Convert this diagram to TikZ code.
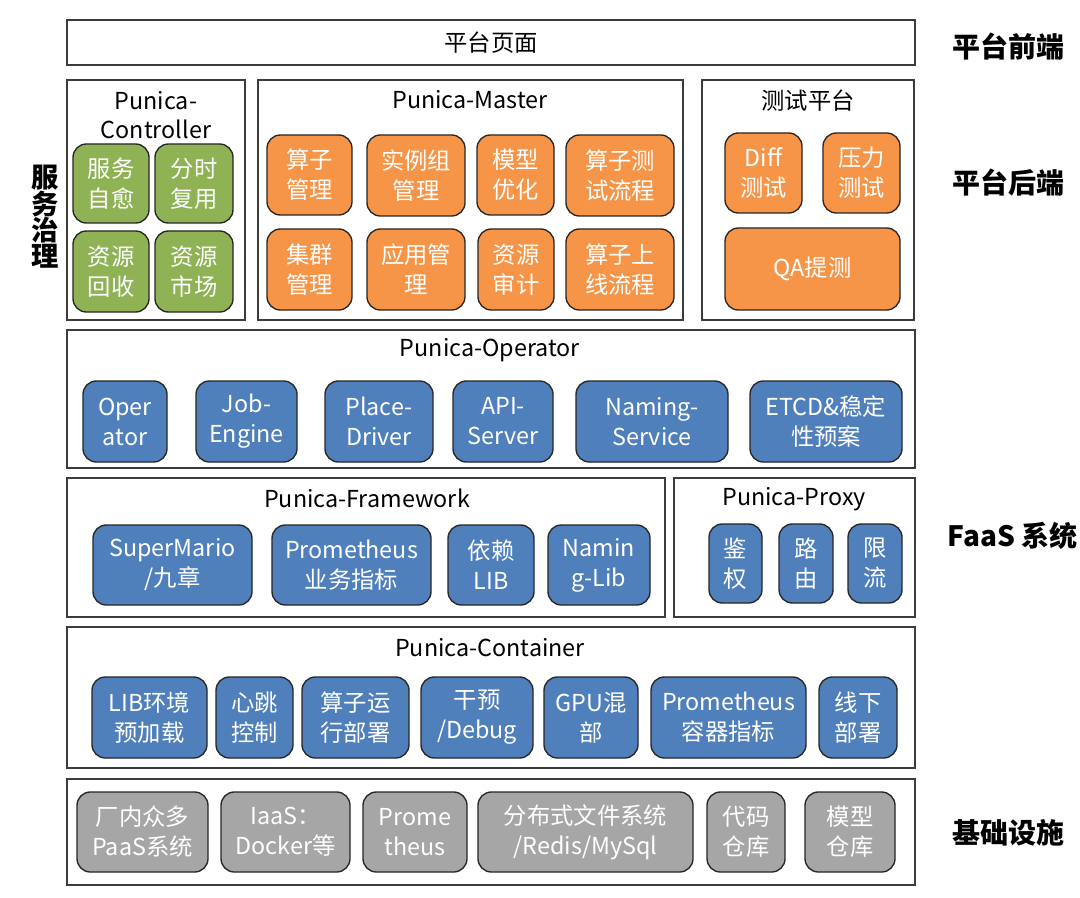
\documentclass[tikz,border=0pt]{standalone}
\usepackage{fontspec}
\setmainfont{Noto Sans CJK SC}
\usetikzlibrary{fit}
\definecolor{cgreen}{RGB}{143,179,84}
\definecolor{corange}{RGB}{246,149,72}
\definecolor{cblue}{RGB}{80,128,188}
\definecolor{cgray}{RGB}{166,166,166}
\definecolor{cborder}{RGB}{60,60,60}
\tikzset{
  panel/.style={draw=cborder, line width=0.9pt, fill=white, inner sep=0pt},
  item/.style={draw=black!85, line width=1pt, rounded corners=10pt, inner sep=0pt},
  gitem/.style={item, fill=cgreen},
  oitem/.style={item, fill=corange},
  bitem/.style={item, fill=cblue},
  yitem/.style={item, fill=cgray},
  itxt/.style={text=white, align=center, inner sep=0pt, font=\fontsize{17.5}{22.5}\selectfont},
  ttl/.style={align=center, inner sep=0pt, font=\fontsize{17.5}{22}\selectfont},
  side/.style={inner sep=0pt, font=\bfseries\fontsize{21}{21}\selectfont},
}
\begin{document}
\begin{tikzpicture}[x=0.75pt, y=-0.75pt]
\useasboundingbox (0,0) rectangle (1080,898);
% panels
\node[panel, fit={(67,20) (915,65)}] (top) {};
\node[ttl] (ttop) at (top) {平台页面};
\node[panel, fit={(67,80) (245,320)}] (ctrl) {};
\node[panel, fit={(258,80) (683,320)}] (master) {};
\node[panel, fit={(702,80) (914,320)}] (test) {};
\node[panel, fit={(67,330) (915,468)}] (oper) {};
\node[panel, fit={(67,478) (665,617)}] (frame) {};
\node[panel, fit={(674,478) (915,617)}] (proxy) {};
\node[panel, fit={(67,627) (915,768)}] (cont) {};
\node[panel, fit={(67,779) (915,885)}] (infra) {};
% titles
\node[ttl] (tctrl) at (156,115) {Punica-\\Controller};
\node[ttl] (tmaster) at (470,100) {Punica-Master};
\node[ttl] (ttest) at (808,101) {测试平台};
\node[ttl] (toper) at (490,350) {Punica-Operator};
\node[ttl] (tframe) at (367,498) {Punica-Framework};
\node[ttl] (tproxy) at (794,499) {Punica-Proxy};
\node[ttl] (tcont) at (490,648) {Punica-Container};
% side labels
\node[side] (s1) at (1008,47) {平台前端};
\node[side] (s2) at (1008,183) {平台后端};
\node[side, anchor=east] (s3) at (1078,536) {FaaS 系统};
\node[side] (s4) at (1008,833) {基础设施};
\node[side, align=center, text width=1em, font=\bfseries\fontsize{20.5}{19.75}\selectfont] (s5) at (38,217) {服\\务\\治\\理};
% controller
\node[gitem, fit={(73,144) (149,223)}] (g1) {};
\node[itxt] at (g1) {服务\\自愈};
\node[gitem, fit={(155,144) (233,223)}] (g2) {};
\node[itxt] at (g2) {分时\\复用};
\node[gitem, fit={(73,231) (149,312)}] (g3) {};
\node[itxt] at (g3) {资源\\回收};
\node[gitem, fit={(155,231) (233,312)}] (g4) {};
\node[itxt] at (g4) {资源\\市场};
% master
\node[oitem, fit={(267,135) (352,215)}] (o1) {};
\node[itxt] at (o1) {算子\\管理};
\node[oitem, fit={(367,135) (465,216)}] (o2) {};
\node[itxt] at (o2) {实例组\\管理};
\node[oitem, fit={(477,135) (554,215)}] (o3) {};
\node[itxt] at (o3) {模型\\优化};
\node[oitem, fit={(566,135) (674,216)}] (o4) {};
\node[itxt] at (o4) {算子测\\试流程};
\node[oitem, fit={(267,229) (352,310)}] (o5) {};
\node[itxt] at (o5) {集群\\管理};
\node[oitem, fit={(367,229) (465,310)}] (o6) {};
\node[itxt] at (o6) {应用管\\理};
\node[oitem, fit={(478,229) (554,310)}] (o7) {};
\node[itxt] at (o7) {资源\\审计};
\node[oitem, fit={(566,229) (674,310)}] (o8) {};
\node[itxt] at (o8) {算子上\\线流程};
% test
\node[oitem, fit={(725,133) (802,213)}] (t1) {};
\node[itxt] at (t1) {Diff\\测试};
\node[oitem, fit={(823,133) (900,213)}] (t2) {};
\node[itxt] at (t2) {压力\\测试};
\node[oitem, fit={(725,228) (900,310)}] (t3) {};
\node[itxt] at (t3) {QA提测};
% operator
\node[bitem, fit={(83,381) (167,462)}] (b1) {};
\node[itxt] at (b1) {Oper\\ator};
\node[bitem, fit={(196,381) (297,462)}] (b2) {};
\node[itxt] at (b2) {Job-\\Engine};
\node[bitem, fit={(325,381) (433,462)}] (b3) {};
\node[itxt] at (b3) {Place-\\Driver};
\node[bitem, fit={(453,381) (553,462)}] (b4) {};
\node[itxt] at (b4) {API-\\Server};
\node[bitem, fit={(576,381) (728,462)}] (b5) {};
\node[itxt] at (b5) {Naming-\\Service};
\node[bitem, fit={(750,381) (902,462)}] (b6) {};
\node[itxt] at (b6) {ETCD\&稳定\\性预案};
% framework
\node[bitem, fit={(93,525) (252,605)}] (f1) {};
\node[itxt] at (f1) {SuperMario\\/九章};
\node[bitem, fit={(272,525) (431,605)}] (f2) {};
\node[itxt] at (f2) {Prometheus\\业务指标};
\node[bitem, fit={(448,525) (534,605)}] (f3) {};
\node[itxt] at (f3) {依赖\\LIB};
\node[bitem, fit={(548,525) (650,605)}] (f4) {};
\node[itxt] at (f4) {Namin\\g-Lib};
% proxy
\node[bitem, fit={(709,524) (762,603)}] (p1) {};
\node[itxt] at (p1) {鉴\\权};
\node[bitem, fit={(779,524) (833,603)}] (p2) {};
\node[itxt] at (p2) {路\\由};
\node[bitem, fit={(848,524) (902,603)}] (p3) {};
\node[itxt] at (p3) {限\\流};
% container
\node[bitem, fit={(92,677) (207,758)}] (c1) {};
\node[itxt] at (c1) {LIB环境\\预加载};
\node[bitem, fit={(216,677) (293,758)}] (c2) {};
\node[itxt] at (c2) {心跳\\控制};
\node[bitem, fit={(302,677) (409,758)}] (c3) {};
\node[itxt] at (c3) {算子运\\行部署};
\node[bitem, fit={(421,677) (533,758)}] (c4) {};
\node[itxt] at (c4) {干预\\/Debug};
\node[bitem, fit={(544,677) (638,758)}] (c5) {};
\node[itxt] at (c5) {GPU混\\部};
\node[bitem, fit={(651,677) (806,758)}] (c6) {};
\node[itxt] at (c6) {Prometheus\\容器指标};
\node[bitem, fit={(819,677) (897,758)}] (c7) {};
\node[itxt] at (c7) {线下\\部署};
% infra
\node[yitem, fit={(77,792) (208,872)}] (i1) {};
\node[itxt] at (i1) {厂内众多\\PaaS系统};
\node[yitem, fit={(221,792) (350,872)}] (i2) {};
\node[itxt] at (i2) {IaaS：\\Docker等};
\node[yitem, fit={(363,792) (467,872)}] (i3) {};
\node[itxt] at (i3) {Prome\\theus};
\node[yitem, fit={(478,792) (693,872)}] (i4) {};
\node[itxt] at (i4) {分布式文件系统\\/Redis/MySql};
\node[yitem, fit={(707,792) (785,872)}] (i5) {};
\node[itxt] at (i5) {代码\\仓库};
\node[yitem, fit={(805,792) (895,872)}] (i6) {};
\node[itxt] at (i6) {模型\\仓库};
\end{tikzpicture}
\end{document}
